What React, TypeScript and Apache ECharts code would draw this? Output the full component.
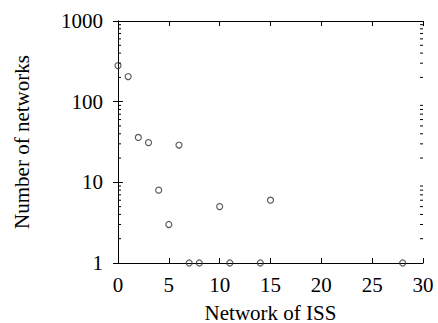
import React, { useEffect, useRef } from "react";
import * as echarts from "echarts";

const issCounts = [0, 1, 2, 3, 4, 5, 6, 7, 8, 10, 11, 14, 15, 28];
const networkCounts = [280, 205, 36, 31, 8, 3, 29, 1, 1, 5, 1, 1, 6, 1];
const xTicks = [0, 5, 10, 15, 20, 25, 30];
const yDecades = [1, 10, 100, 1000];
const minorMultipliers = [2, 3, 4, 5, 6, 7, 8, 9];

const FONT = "Liberation Serif";

export default function App() {
  const ref = useRef<HTMLDivElement>(null);
  useEffect(() => {
    if (!ref.current) return;
    const chart = echarts.init(ref.current, undefined, { renderer: "svg" });
    const minorVals: number[] = [];
    for (let i = 0; i < yDecades.length - 1; i++) {
      for (const m of minorMultipliers) minorVals.push(yDecades[i] * m);
    }
    const xMin = xTicks[0];
    const xMax = xTicks[xTicks.length - 1];
    const axisLine = { show: true, lineStyle: { color: "#000", width: 1 } };
    const labelStyle = { color: "#000", fontFamily: FONT, fontSize: 21 };
    chart.setOption({
      animation: false,
      backgroundColor: "#fff",
      grid: {
        left: 118,
        right: 15,
        top: 21,
        bottom: 60,
        containLabel: false,
        outerBoundsMode: "none",
      },
      xAxis: [
        {
          type: "value",
          position: "bottom",
          min: xMin,
          max: xMax,
          interval: 5,
          axisLine,
          axisTick: { show: true, inside: true, length: 5, lineStyle: { color: "#000" } },
          axisLabel: { ...labelStyle, margin: 11 },
          splitLine: { show: false },
          name: "Network of ISS",
          nameLocation: "middle",
          nameGap: 40,
          nameTextStyle: { color: "#000", fontFamily: FONT, fontSize: 21, lineHeight: 19 },
        },
        {
          type: "value",
          position: "top",
          min: xMin,
          max: xMax,
          interval: 5,
          axisLine,
          axisTick: { show: true, inside: true, length: 5, lineStyle: { color: "#000" } },
          axisLabel: { show: false },
          splitLine: { show: false },
        },
      ],
      yAxis: [
        {
          type: "log",
          logBase: 10,
          position: "left",
          min: yDecades[0],
          max: yDecades[yDecades.length - 1],
          axisLine,
          axisTick: { show: true, inside: true, length: 5, lineStyle: { color: "#000" } },
          axisLabel: {
            ...labelStyle,
            margin: 15,
            formatter: (v: number) => String(Math.round(v)),
          },
          splitLine: { show: false },
          name: "Number of networks",
          nameLocation: "middle",
          nameGap: 86,
          nameTextStyle: { color: "#000", fontFamily: FONT, fontSize: 21 },
        },
        {
          type: "log",
          logBase: 10,
          position: "right",
          min: yDecades[0],
          max: yDecades[yDecades.length - 1],
          axisLine,
          axisTick: { show: true, inside: true, length: 5, lineStyle: { color: "#000" } },
          axisLabel: { show: false },
          splitLine: { show: false },
        },
      ],
      series: [
        {
          type: "custom",
          xAxisIndex: 0,
          yAxisIndex: 0,
          silent: true,
          clip: false,
          data: minorVals.map((v) => [xMin, v]),
          renderItem: (params: any, api: any) => {
            const v = api.value(1);
            const l = api.coord([xMin, v]);
            const r = api.coord([xMax, v]);
            const style = { stroke: "#000", lineWidth: 1 };
            return {
              type: "group",
              children: [
                { type: "line", shape: { x1: l[0], y1: l[1], x2: l[0] + 3, y2: l[1] }, style },
                { type: "line", shape: { x1: r[0], y1: r[1], x2: r[0] - 3, y2: r[1] }, style },
              ],
            };
          },
        },
        {
          type: "scatter",
          xAxisIndex: 0,
          yAxisIndex: 0,
          clip: false,
          symbol: "circle",
          symbolSize: 6,
          itemStyle: { color: "rgba(255,255,255,0)", borderColor: "#333", borderWidth: 1.2 },
          data: issCounts.map((x, i) => [x, networkCounts[i]]),
        },
      ],
    });
    return () => chart.dispose();
  }, []);
  return (
    <div
      ref={ref}
      style={{ position: "fixed", left: 0, top: 0, width: 438, height: 323 }}
    />
  );
}
